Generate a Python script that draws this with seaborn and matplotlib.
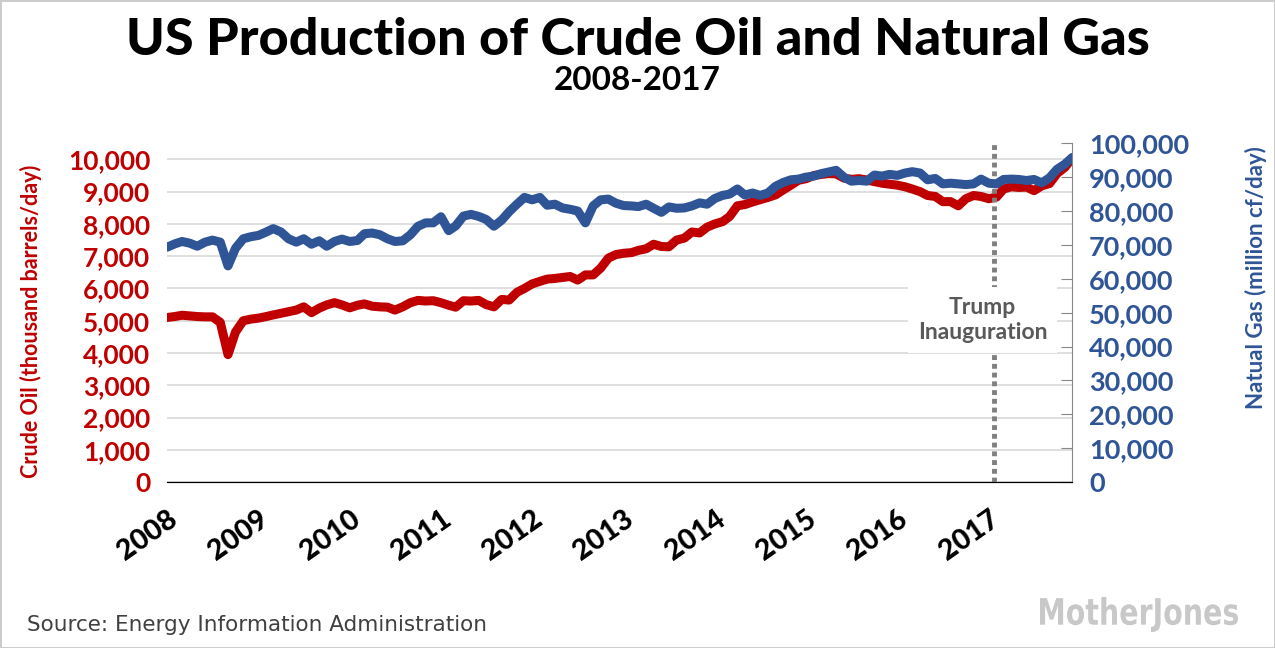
import pandas as pd
import numpy as np
import matplotlib
matplotlib.use("Agg")
import matplotlib.pyplot as plt
import matplotlib.dates as mdates
from matplotlib.textpath import TextPath
from matplotlib.patches import PathPatch
from matplotlib.font_manager import FontProperties
from matplotlib.transforms import Affine2D
import seaborn as sns

# monthly data, Jan 2008 - Dec 2017
crude_oil = [
    5100, 5130, 5170, 5150, 5130, 5120, 5120, 4950, 3950, 4650, 5000, 5050,
    5080, 5130, 5180, 5230, 5280, 5330, 5430, 5250, 5390, 5490, 5560, 5490,
    5400, 5480, 5520, 5450, 5430, 5420, 5330, 5430, 5560, 5630, 5610, 5620,
    5560, 5480, 5420, 5620, 5610, 5630, 5500, 5430, 5660, 5640, 5880, 6000,
    6140, 6220, 6290, 6310, 6340, 6370, 6260, 6420, 6420, 6630, 6940, 7050,
    7090, 7110, 7180, 7230, 7370, 7300, 7290, 7500, 7560, 7750, 7720, 7900,
    8000, 8070, 8230, 8560, 8600, 8680, 8750, 8820, 8900, 9050, 9200, 9350,
    9400, 9500, 9530, 9560, 9550, 9420, 9380, 9400, 9360, 9310, 9260, 9230,
    9200, 9150, 9080, 9000, 8880, 8850, 8690, 8690, 8560, 8780, 8880, 8850,
    8780, 8830, 9080, 9150, 9130, 9140, 9030, 9180, 9250, 9560, 9750, 10040,
]
natural_gas = [
    69300, 70300, 71000, 70500, 69600, 70800, 71400, 70800, 63800, 69000, 71800, 72400,
    72800, 73800, 74800, 73800, 71800, 70800, 71800, 70200, 71200, 69600, 71000, 71700,
    71000, 71300, 73300, 73500, 73000, 71800, 71000, 71200, 73000, 75500, 76500, 76500,
    78300, 74200, 75600, 78500, 79000, 78400, 77500, 75500, 77300, 79800, 82000, 84000,
    83300, 84000, 81700, 82000, 80900, 80500, 80000, 76500, 81500, 83300, 83500, 82300,
    81600, 81500, 81300, 82000, 80800, 79600, 81200, 80800, 80900, 81500, 82400, 82000,
    83700, 84600, 85000, 86500, 84700, 85300, 84600, 85300, 87300, 88400, 89200, 89400,
    90000, 90300, 91000, 91500, 92000, 90000, 88800, 89000, 88800, 90600, 90300, 90800,
    90500, 91200, 91600, 91200, 89200, 89600, 88000, 88200, 88000, 87800, 88000, 89400,
    88200, 88000, 89300, 89400, 89300, 89000, 89300, 88300, 89800, 92300, 93800, 95800,
]
months = pd.date_range("2008-01-01", periods=len(crude_oil), freq="MS")
df = pd.DataFrame({"month": months, "crude": crude_oil, "gas": natural_gas})

red = "#C00000"
blue = "#2F5597"

sns.set_style("white")
plt.rcParams["font.family"] = ["Lato", "DejaVu Sans"]

fig = plt.figure(figsize=(12.75, 6.48), dpi=100)
fig.patch.set_edgecolor("#cccccc")
fig.patch.set_linewidth(2)
ax = fig.add_axes([0.131, 0.256, 0.710, 0.523])
ax2 = ax.twinx()

sns.lineplot(data=df, x="month", y="crude", ax=ax, color=red, linewidth=6.5,
             solid_capstyle="round", solid_joinstyle="round")
sns.lineplot(data=df, x="month", y="gas", ax=ax2, color=blue, linewidth=6.5,
             solid_capstyle="round", solid_joinstyle="round")

ax.set_xlim(months[0], months[-1])
ax.set_ylim(0, 10500)
ax2.set_ylim(0, 100000)
ax.set_yticks(range(0, 10001, 1000))
ax2.set_yticks(range(0, 100001, 10000))
ax.yaxis.set_major_formatter(matplotlib.ticker.StrMethodFormatter("{x:,.0f}"))
ax2.yaxis.set_major_formatter(matplotlib.ticker.StrMethodFormatter("{x:,.0f}"))
ax.grid(axis="y", color="#d9d9d9", linewidth=1.2)
ax.set_axisbelow(True)

ax.xaxis.set_major_locator(mdates.YearLocator())
ax.xaxis.set_major_formatter(mdates.DateFormatter("%Y"))
ax.tick_params(axis="x", direction="in", length=9, width=1, color="black",
               labelsize=20.5, labelcolor="black", pad=17)
for lbl in ax.get_xticklabels():
    lbl.set_rotation(35)
    lbl.set_ha("right")
    lbl.set_rotation_mode("anchor")
    lbl.set_fontweight("black")

ax.tick_params(axis="y", length=0, labelsize=19, labelcolor=red, pad=12)
for lbl in ax.get_yticklabels():
    lbl.set_fontweight("bold")
ax2.tick_params(axis="y", direction="in", length=8, color="#888888",
                labelsize=19.5, labelcolor=blue, pad=12)
for lbl in ax2.get_yticklabels():
    lbl.set_fontweight("bold")

for a in (ax, ax2):
    a.spines["top"].set_visible(False)
    a.spines["left"].set_visible(False)
    a.spines["right"].set_visible(False)
    a.spines["bottom"].set_color("black")
ax2.spines["right"].set_visible(True)
ax2.spines["right"].set_color("#888888")

ax.set_xlabel("")
ax.set_ylabel("Crude Oil (thousand barrels/day)", color=red, fontsize=15.5,
              fontweight="bold")
ax.yaxis.set_label_coords(-0.138, 0.475)
ax2.set_ylabel("Natual Gas (million cf/day)", color=blue, fontsize=16,
               fontweight="bold", rotation=90)
ax2.yaxis.set_label_coords(1.191, 0.605)

# inauguration marker
inaug = pd.Timestamp("2017-01-20")
ax2.axvline(inaug, color="#7f7f7f", linewidth=3.5, linestyle=(0, (1, 0.8)),
            zorder=1)
ax2.annotate("Trump\nInauguration", xy=(inaug, 47800), xytext=(-8, 0),
             textcoords="offset points", ha="center", va="center",
             fontsize=16.5, fontweight="bold", color="#595959", linespacing=1.25,
             bbox=dict(facecolor="white", edgecolor="none", pad=7), zorder=5)

fig.text(0.5, 0.938, "US Production of Crude Oil and Natural Gas", ha="center",
         va="center", fontsize=37.5, fontweight="black", color="black")
fig.text(0.5, 0.875, "2008-2017", ha="center", va="center", fontsize=24,
         fontweight="bold", color="black")
fig.text(0.021, 0.035, "Source: Energy Information Administration",
         ha="left", va="center", fontsize=15.5, color="#404040",
         family="DejaVu Sans")

# condensed grey logo, squeezed into its box in pixel space
logo = TextPath((0, 0), "MotherJones", size=1,
                prop=FontProperties(family="DejaVu Sans", weight="bold"))
ext = logo.get_extents()
box_x0, box_x1, box_y0, box_y1 = 1040, 1238, 16, 51
sx = (box_x1 - box_x0) / ext.width
sy = (box_y1 - box_y0) / ext.height
tr = Affine2D().translate(-ext.x0, -ext.y0).scale(sx, sy).translate(box_x0, box_y0)
fig.patches.append(PathPatch(logo, transform=tr, facecolor="#c8c8c8",
                             edgecolor="none", figure=fig))

fig.savefig("out.png", dpi=100)
